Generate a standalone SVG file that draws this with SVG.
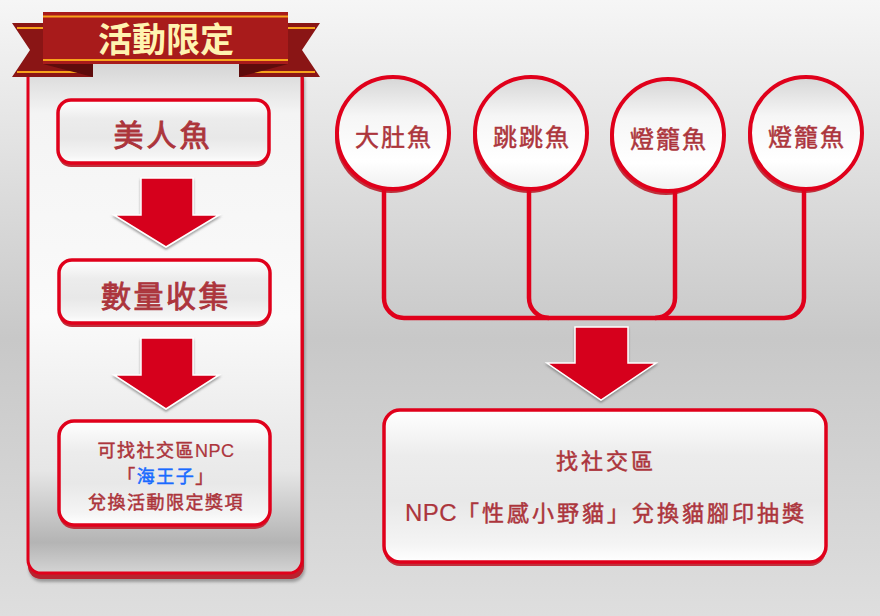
<svg xmlns="http://www.w3.org/2000/svg" width="880" height="616" viewBox="0 0 880 616">
<defs>
  <linearGradient id="bg" x1="0" y1="0" x2="0" y2="1">
    <stop offset="0" stop-color="#f6f6f6"/>
    <stop offset="0.55" stop-color="#c8c8c8"/>
    <stop offset="1" stop-color="#dedede"/>
  </linearGradient>
  <linearGradient id="panel" x1="0" y1="0" x2="0" y2="1">
    <stop offset="0" stop-color="#d4d4d4"/>
    <stop offset="0.1" stop-color="#f4f4f4"/>
    <stop offset="0.5" stop-color="#fafafa"/>
    <stop offset="0.8" stop-color="#e6e6e6"/>
    <stop offset="0.94" stop-color="#b4b4b4"/>
    <stop offset="1" stop-color="#d4d4d4"/>
  </linearGradient>
  <linearGradient id="box" x1="0" y1="0" x2="0" y2="1">
    <stop offset="0" stop-color="#ffffff"/>
    <stop offset="0.3" stop-color="#ececec"/>
    <stop offset="0.6" stop-color="#e8e8e8"/>
    <stop offset="0.88" stop-color="#f4f4f4"/>
    <stop offset="1" stop-color="#ffffff"/>
  </linearGradient>
  <linearGradient id="circ" x1="0" y1="0" x2="0" y2="1">
    <stop offset="0" stop-color="#d6d6d6"/>
    <stop offset="0.35" stop-color="#f6f6f6"/>
    <stop offset="0.75" stop-color="#ffffff"/>
    <stop offset="1" stop-color="#f0f0f0"/>
  </linearGradient>
  <filter id="sh" x="-20%" y="-20%" width="140%" height="140%">
    <feDropShadow dx="1" dy="3" stdDeviation="1.5" flood-color="#000" flood-opacity="0.3"/>
  </filter>
  <filter id="ash" x="-20%" y="-20%" width="140%" height="140%">
    <feDropShadow dx="0" dy="2" stdDeviation="1" flood-color="#666" flood-opacity="0.6"/>
  </filter>
</defs>
<style>
  .bx { fill: url(#box); stroke: #e0001b; stroke-width: 3.5; }
  .bsh { fill: #c0303c; }
  .ci { fill: url(#circ); stroke: #e0001b; stroke-width: 4; }
  .csh { fill: #bf2f3b; }
  .t { font-family: "Noto Sans CJK TC", "Noto Sans CJK SC", sans-serif; fill: #ac353c; stroke: #ac353c; text-anchor: middle; }
  .m { stroke-width: 0.5; }
  .h { stroke-width: 0.9; }
  .lat { font-family: "Liberation Sans", Arial, sans-serif; stroke-width: 0.2; letter-spacing: 0.5px; }
  .arr { fill: #d6001c; stroke: #ffffff; stroke-width: 1.5; filter: url(#ash); }
  .con { fill: none; stroke: #e0001b; stroke-width: 4.5; }
</style>
<rect x="0" y="0" width="880" height="616" fill="url(#bg)"/>

<g id="panel-left">
  <rect x="28" y="66" width="276" height="513" rx="13" fill="#b8202e" filter="url(#sh)"/>
  <rect x="28" y="62" width="274" height="511" rx="13" fill="url(#panel)" stroke="#e0001b" stroke-width="3"/>
</g>

<g id="banner">
  <polygon points="12,23 93,23 93,77 12,77 30,50" fill="#8a1515"/>
  <polygon points="320,23 239,23 239,77 320,77 302,50" fill="#8a1515"/>
  <line x1="17" y1="28" x2="43" y2="28" stroke="#f7a21b" stroke-width="2"/>
  <line x1="17" y1="72" x2="93" y2="72" stroke="#f7a21b" stroke-width="2"/>
  <line x1="288" y1="28" x2="315" y2="28" stroke="#f7a21b" stroke-width="2"/>
  <line x1="239" y1="72" x2="315" y2="72" stroke="#f7a21b" stroke-width="2"/>
  <polygon points="43,64 93,64 93,77" fill="#5e0c0c"/>
  <polygon points="288,64 239,64 239,77" fill="#5e0c0c"/>
  <rect x="43" y="12" width="245" height="52" fill="#a81b1b"/>
  <line x1="43" y1="16.5" x2="288" y2="16.5" stroke="#f7a21b" stroke-width="2"/>
  <line x1="43" y1="60" x2="288" y2="60" stroke="#f7a21b" stroke-width="2"/>
  <text x="166" y="52" font-weight="bold" font-family="Noto Sans CJK TC, sans-serif" font-size="34" fill="#fff3b0" text-anchor="middle">活動限定</text>
</g>

<g id="node-mermaid">
  <rect x="58" y="104" width="211" height="63" rx="13" class="bsh"/>
  <rect x="58" y="100" width="211" height="63" rx="13" class="bx"/>
  <text x="163" y="146" class="t h" font-size="30" letter-spacing="3">美人魚</text>
</g>

<g id="node-count">
  <rect x="59" y="264" width="211" height="63" rx="13" class="bsh"/>
  <rect x="59" y="260" width="211" height="63" rx="13" class="bx"/>
  <text x="166" y="307" class="t h" font-size="30" letter-spacing="2.5">數量收集</text>
</g>

<g id="node-npc">
  <rect x="59" y="425" width="211" height="104" rx="15" class="bsh"/>
  <rect x="59" y="421" width="211" height="104" rx="15" class="bx"/>
  <text x="166" y="457" class="t m" font-size="18" letter-spacing="1.5">可找社交區<tspan class="lat">NPC</tspan></text>
  <text x="166" y="483" class="t m" font-size="18" letter-spacing="1.5">「<tspan fill="#1a6bff" stroke="#1a6bff">海王子</tspan>」</text>
  <text x="166" y="509" class="t m" font-size="18" letter-spacing="1.5">兌換活動限定獎項</text>
</g>

<g id="node-c1">
  <circle cx="391" cy="137" r="56" class="csh"/>
  <circle cx="393" cy="133" r="56" class="ci"/>
  <text x="394" y="146" class="t m" font-size="24" letter-spacing="2">大肚魚</text>
</g>
<g id="node-c2">
  <circle cx="529" cy="137" r="56" class="csh"/>
  <circle cx="531" cy="133" r="56" class="ci"/>
  <text x="532" y="146" class="t m" font-size="24" letter-spacing="2">跳跳魚</text>
</g>
<g id="node-c3">
  <circle cx="666" cy="139" r="56" class="csh"/>
  <circle cx="668" cy="135" r="56" class="ci"/>
  <text x="669" y="148" class="t m" font-size="24" letter-spacing="2">燈籠魚</text>
</g>
<g id="node-c4">
  <circle cx="804" cy="137" r="56" class="csh"/>
  <circle cx="806" cy="133" r="56" class="ci"/>
  <text x="807" y="146" class="t m" font-size="24" letter-spacing="2">燈籠魚</text>
</g>

<g id="node-result">
  <rect x="384" y="414" width="442" height="152" rx="16" class="bsh"/>
  <rect x="384" y="410" width="442" height="152" rx="16" class="bx"/>
  <text x="606" y="469" class="t m" font-size="22" letter-spacing="3">找社交區</text>
  <text x="606" y="521" class="t m" font-size="22" letter-spacing="3"><tspan class="lat" font-size="24">NPC</tspan>「性感小野貓」兌換貓腳印抽獎</text>
</g>

<g id="connectors">
  <polygon class="arr" points="141,178 193,178 193,215 219,215 166,247 114,215 141,215"/>
  <polygon class="arr" points="141,338 193,338 193,375 219,375 166,409 114,375 141,375"/>
  <path class="con" d="M384,189 V298 A20,20 0 0 0 404,318 H784 A20,20 0 0 0 804,298 V189"/>
  <path class="con" d="M529,189 V298 A20,20 0 0 0 549,318"/>
  <path class="con" d="M675,191 V298 A20,20 0 0 1 655,318"/>
  <polygon class="arr" points="575,327 628,327 628,363 656,363 601,400 547,363 575,363"/>
</g>
</svg>
